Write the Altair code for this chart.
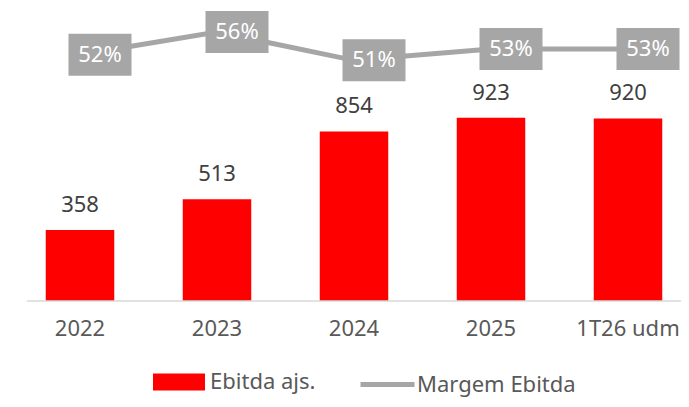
import altair as alt
import pandas as pd

categories = ["2022", "2023", "2024", "2025", "1T26 udm"]
ebitda = [358, 513, 854, 923, 920]
margem = [52, 56, 51, 53, 53]

FONT = "Noto Sans"
RED = "#ff0000"
GRAY = "#a6a6a6"

df = pd.DataFrame({
    "cat": categories,
    "ebitda": ebitda,
    "margem": margem,
})
df["ebitda_label"] = df["ebitda"].astype(str)
df["margem_label"] = df["margem"].astype(str) + "%"

x_enc = alt.X("cat:N", sort=categories,
              scale=alt.Scale(range=[3.5, 688.5], paddingInner=0.5, paddingOuter=0.25),
              axis=None)
y_bar = alt.Y("ebitda:Q", scale=alt.Scale(domain=[0, 1000], range=[293, 94.5]), axis=None)
y_mar = alt.Y("margem:Q", scale=alt.Scale(domain=[50, 56], range=[58, 24], zero=False), axis=None)

base = alt.Chart(df)

bars = base.mark_bar(size=68.5).transform_calculate(serie="'Ebitda ajs.'").encode(
    x=x_enc, y=y_bar,
    fill=alt.Fill("serie:N", scale=alt.Scale(range=[RED]),
                  legend=alt.Legend(title=None, orient="none", legendX=145, legendY=348,
                                    symbolType="M-1,-0.33H1V0.33H-1Z", symbolSize=2704,
                                    symbolStrokeWidth=0, labelFont=FONT, labelFontSize=22,
                                    labelColor="#595959", labelOffset=5, padding=0)),
)

bar_labels = base.mark_text(font=FONT, fontSize=22, color="#404040",
                            baseline="alphabetic", dy=-18).encode(
    x=x_enc, y=y_bar, text="ebitda_label:N")

baseline = alt.Chart(pd.DataFrame({"v": [0]})).mark_rule(color="#d9d9d9", strokeWidth=1.5).encode(
    x=alt.value(19), x2=alt.value(673), y=alt.value(293))

cat_labels = base.mark_text(font=FONT, fontSize=22, color="#595959", baseline="middle").encode(
    x=x_enc, y=alt.value(321), text="cat:N")

line = base.mark_line(strokeWidth=5).transform_calculate(serie2="'Margem Ebitda'").encode(
    x=x_enc, y=y_mar,
    stroke=alt.Stroke("serie2:N", scale=alt.Scale(range=[GRAY]),
                      legend=alt.Legend(title=None, orient="none", legendX=350, legendY=347,
                                        symbolType="M-1,0H1", symbolSize=2916,
                                        symbolStrokeWidth=5, labelFont=FONT, labelFontSize=22,
                                        labelColor="#595959", labelOffset=0, padding=0)),
)

boxes = base.mark_point(shape="M-1,-0.667H1V0.667H-1Z", size=3969, filled=True,
                        color=GRAY, opacity=1, xOffset=20).encode(x=x_enc, y=y_mar)

box_text = base.mark_text(font=FONT, fontSize=22, color="white", baseline="middle",
                          xOffset=20).encode(x=x_enc, y=y_mar, text="margem_label:N")

chart = alt.layer(bars, bar_labels, baseline, cat_labels, line, boxes, box_text).resolve_scale(
    y="independent"
).properties(
    width=673, height=391, autosize="none", padding=0
).configure_view(stroke=None)

chart.save("out.html", embed_options={"renderer": "svg", "actions": False})
